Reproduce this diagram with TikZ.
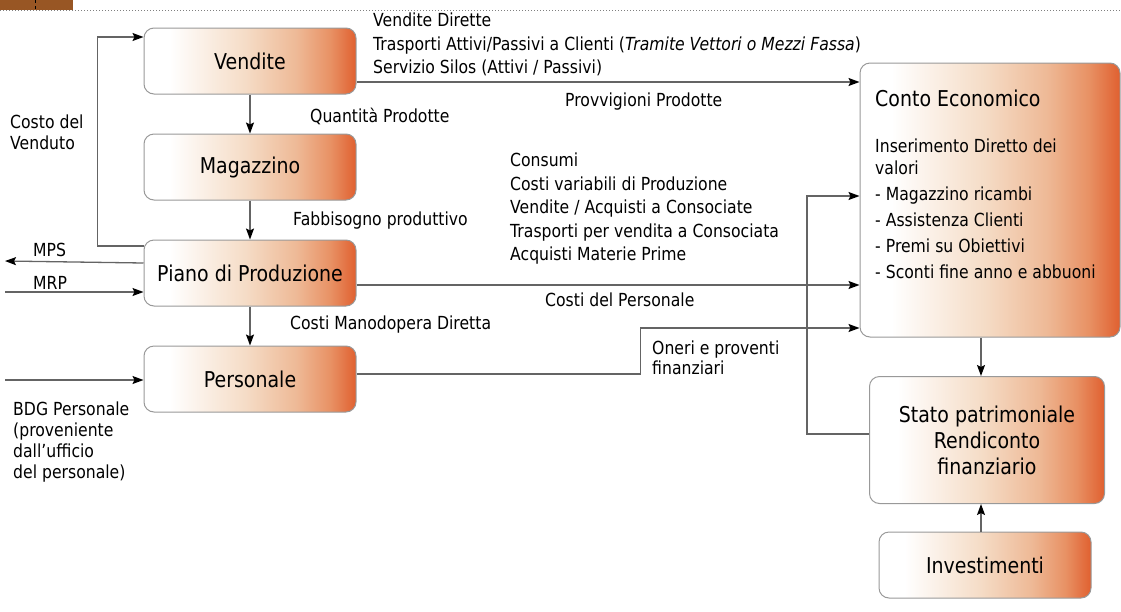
\documentclass[tikz,border=0pt]{standalone}
\usepackage{fontspec}
\setmainfont{DejaVu Sans}[FakeStretch=0.87]
\usetikzlibrary{shapes,arrows.meta,calc}
\definecolor{boxorange}{RGB}{224,96,48}
\definecolor{boxdeep}{RGB}{232,145,100}
\definecolor{boxpeach}{RGB}{238,185,150}
\definecolor{boxpale}{RGB}{245,220,198}
\definecolor{linegray}{RGB}{100,100,100}
\definecolor{barbrown}{RGB}{152,86,36}
\pgfdeclarehorizontalshading{boxshade}{100bp}{color(0bp)=(white); color(25bp)=(white); color(31bp)=(white); color(49bp)=(boxpale); color(61bp)=(boxpeach); color(69bp)=(boxdeep); color(75bp)=(boxorange); color(100bp)=(boxorange)}
\newcommand{\smalltxt}{\fontsize{18}{23.5}\selectfont}
\newcommand{\boxtxt}{\fontsize{21.8}{26}\selectfont}
\tikzstyle{block} = [rectangle, draw=gray!80, line width=1pt, shading=boxshade,
    text centered, rounded corners=10pt, minimum width=212pt, minimum height=66pt, font=\boxtxt]
\tikzstyle{line} = [draw=linegray, line width=1.3pt, -{Stealth[black, length=11pt, width=8pt, inset=2pt]}]
\tikzstyle{lbl} = [anchor=west, align=left, inner sep=0pt, font=\smalltxt]

\begin{document}
\begin{tikzpicture}[x=1pt, y=-1pt, node distance=106pt]
    \useasboundingbox (0,0) rectangle (1121,611);
    % Top bar
    \fill [barbrown] (0,0) rectangle (73,10);
    \draw [black, dashed, line width=0.6pt] (35,0) -- (35,10);
    \draw [gray, dotted, line width=1pt] (0,10) -- (1121,10);
    % Place nodes
    \node [block] (vendite) at (250,61) {Vendite};
    \node [block, below of=vendite] (magazzino) {Magazzino};
    \node [block, below of=magazzino] (piano) {Piano di Produzione};
    \node [block, below of=piano] (personale) {Personale};
    \node [block, minimum width=260pt, minimum height=274pt] (conto) at (990,200) {};
    \node [block, minimum width=235pt, minimum height=127pt, align=center] (stato) at (987,440) {Stato patrimoniale\\Rendiconto\\finanziario};
    \node [block] (invest) at (985,565) {Investimenti};
    % Text inside Conto Economico
    \node [lbl, font=\boxtxt] (ce_title) at (875,98) {Conto Economico};
    \node [lbl, font=\fontsize{18}{22}\selectfont] (ce_ins) at (875,157) {Inserimento Diretto dei\\valori};
    \node [lbl, font=\fontsize{18}{26}\selectfont] (ce_list) at (875,233) {- Magazzino ricambi\\- Assistenza Clienti\\- Premi su Obiettivi\\- Sconti fine anno e abbuoni};
    % Free ends
    \coordinate (mps) at (5,261);
    \coordinate (mrp) at (5,292);
    \coordinate (bdg) at (5,380);
    % Draw edges
    \path [line] (vendite) -- (magazzino);
    \path [line] (magazzino) -- (piano);
    \path [line] (piano) -- (personale);
    \path [line] ([yshift=27pt]piano.west) -- ++(-46,0) |- ([yshift=24pt]vendite.west);
    \path [line] ([yshift=10pt]piano.west) -- (mps);
    \path [line] (mrp) -- (mrp -| piano.west);
    \path [line] (bdg) -- (bdg -| personale.west);
    \path [line] ([yshift=-21pt]vendite.east) -- ([yshift=-21pt]vendite.east -| conto.west);
    \path [line] ([yshift=-12pt]piano.east) -- ([yshift=-12pt]piano.east -| conto.west);
    \path [line] ([yshift=5pt]personale.east) -- ++(284,0) |- ([yshift=-128pt]conto.west);
    \path [line] ([yshift=6pt]stato.west) -- ++(-62,0) |- ([yshift=4pt]conto.west);
    \path [line] ([xshift=-9pt]conto.south) -- ([xshift=-9pt]conto.south |- stato.north);
    \path [line] ([xshift=-4pt]invest.north) -- ([xshift=-4pt]invest.north |- stato.south);
    % Edge labels
    \node [lbl] (l_vend) at (373,44.5) {Vendite Dirette\\Trasporti Attivi/Passivi a Clienti (\textit{Tramite Vettori o Mezzi Fassa})\\Servizio Silos (Attivi / Passivi)};
    \node [lbl] (l_provv) at (565,102) {Provvigioni Prodotte};
    \node [lbl] (l_quant) at (310,116) {Quantità Prodotte};
    \node [lbl] (l_fabb) at (293,221) {Fabbisogno produttivo};
    \node [lbl] (l_cons) at (510,209) {Consumi\\Costi variabili di Produzione\\Vendite / Acquisti a Consociate\\Trasporti per vendita a Consociata\\Acquisti Materie Prime};
    \node [lbl] (l_pers) at (545,300) {Costi del Personale};
    \node [lbl] (l_mano) at (290,325) {Costi Manodopera Diretta};
    \node [lbl, font=\fontsize{18}{20}\selectfont] (l_oneri) at (652,358) {Oneri e proventi\\finanziari};
    \node [lbl, font=\fontsize{18}{20.8}\selectfont] (l_bdg) at (13,442) {BDG Personale\\(proveniente\\dall’ufficio\\del personale)};
    \node [lbl, font=\fontsize{18}{21}\selectfont] (l_costo) at (10,132) {Costo del\\Venduto};
    \node [lbl] (l_mps) at (33,250) {MPS};
    \node [lbl] (l_mrp) at (33,283) {MRP};
\end{tikzpicture}
\end{document}
